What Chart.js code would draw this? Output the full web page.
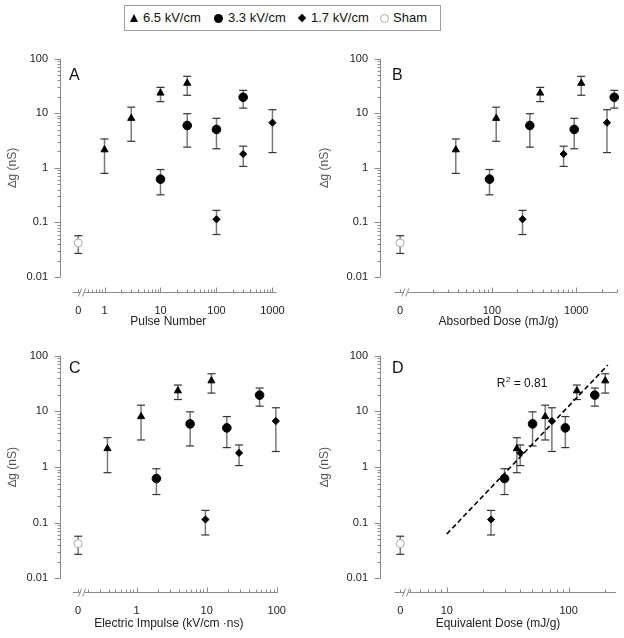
<!DOCTYPE html>
<html>
<head>
<meta charset="utf-8">
<script src="https://cdn.jsdelivr.net/npm/chart.js@4.4.1/dist/chart.umd.min.js"></script>
<style>
body { margin: 0; background: #fff; width: 624px; height: 638px; position: relative; overflow: hidden; font-family: 'Liberation Sans', Arial, sans-serif; }
canvas { position: absolute; }
#legend { position: absolute; left: 124px; top: 5px; width: 315px; height: 24px; border: 1px solid #a0a0a0; }
#legend .lt { position: absolute; top: 4px; font-size: 13px; line-height: 16px; color: #111; }
#legend .mk { position: absolute; }
.tri { width: 0; height: 0; border-left: 4.5px solid transparent; border-right: 4.5px solid transparent; border-bottom: 8px solid #000; top: 8px; }
.circ { width: 9px; height: 9px; border-radius: 50%; background: #000; top: 7.5px; }
.dia { width: 6px; height: 6px; background: #000; transform: rotate(45deg); top: 9px; }
.open { width: 7px; height: 7px; border-radius: 50%; border: 1px solid #aaa; top: 8px; }
</style>
</head>
<body>
<div id="legend">
  <span class="mk tri" style="left:4.5px"></span><span class="lt" style="left:18px">6.5 kV/cm</span>
  <span class="mk circ" style="left:89px"></span><span class="lt" style="left:103px">3.3 kV/cm</span>
  <span class="mk dia" style="left:174px"></span><span class="lt" style="left:186px">1.7 kV/cm</span>
  <span class="mk open" style="left:254.5px"></span><span class="lt" style="left:268px">Sham</span>
</div>
<canvas id="cA" width="312" height="290" style="left:0;top:40px"></canvas>
<canvas id="cB" width="312" height="290" style="left:312px;top:40px"></canvas>
<canvas id="cC" width="312" height="308" style="left:0;top:330px"></canvas>
<canvas id="cD" width="312" height="308" style="left:312px;top:330px"></canvas>
<script>
// conductance change (nS); same points in every panel
const g65 = [2.14, 8.06, 23.4, 35.4];
const g65Lo = [0.79, 3.06, 16.3, 21.3];
const g65Hi = [3.37, 12.9, 29.7, 47.4];
const g33 = [0.62, 5.95, 5.05, 19.6];
const g33Lo = [0.32, 2.39, 2.23, 12.4];
const g33Hi = [0.93, 9.8, 8.06, 26.2];
const g17 = [0.114, 1.79, 6.7];
const g17Lo = [0.06, 1.06, 1.9];
const g17Hi = [0.166, 2.49, 11.6];
const gSham = [0.042];
const gShamLo = [0.027];
const gShamHi = [0.057];

// x values per panel
const pulses65 = [1, 3, 10, 30];
const pulses33 = [10, 30, 100, 300];
const pulses17 = [100, 300, 1000];
const absorbed65 = [37.4, 112.6, 374, 1146];
const absorbed33 = [93.8, 282, 946, 2820];
const absorbed17 = [231, 708, 2313];
const impulse65 = [0.385, 1.16, 3.89, 11.7];
const impulse33 = [1.92, 5.81, 19.4, 56.9];
const impulse17 = [9.6, 29, 97];
const equiv65 = [37.6, 64.3, 117, 200];
const equiv33 = [29.8, 50.6, 94, 164];
const equiv17 = [23.1, 40.1, 72.9];

// regression line in D
const fitX = [10, 210];
const fitY = [0.0625, 68];

// ticks ("0" sits left of the axis break)
const yTicks = [0.01, 0.1, 1, 10, 100];
const yTickLabels = ['0.01', '0.1', '1', '10', '100'];
const pulseTicks = [0.34, 1, 10, 100, 1000];
const pulseTickLabels = ['0', '1', '10', '100', '1000'];
const doseTicks = [8.2, 100, 1000];
const doseTickLabels = ['0', '100', '1000'];
const impulseTicks = [0.147, 1, 10, 100];
const impulseTickLabels = ['0', '1', '10', '100'];
const equivTicks = [4.15, 10, 100];
const equivTickLabels = ['0', '10', '100'];

const FONT = "'Liberation Sans', Arial, sans-serif";
const AXIS = '#8a8a8a';

function minors(from, to) {
    const out = [];
    for (let d = Math.floor(Math.log10(from)); d <= Math.ceil(Math.log10(to)); d++) {
        for (let k = 2; k <= 9; k++) {
            const v = k * Math.pow(10, d);
            if (v >= from && v <= to) out.push(v);
        }
    }
    return out;
}

function pts(xs, ys) {
    return xs.map((x, i) => ({ x: x, y: ys[i] }));
}

const figAxes = {
    id: 'figAxes',
    beforeDatasetsDraw(chart, args, o) {
        const ctx = chart.ctx, sx = chart.scales.x, sy = chart.scales.y, a = chart.chartArea;
        const seg = (x1, y1, x2, y2) => { ctx.beginPath(); ctx.moveTo(x1, y1); ctx.lineTo(x2, y2); ctx.stroke(); };
        ctx.save();
        ctx.strokeStyle = AXIS;
        ctx.lineWidth = 1;

        // y axis
        const yx = Math.round(a.left) + 0.5;
        seg(yx, sy.getPixelForValue(0.01), yx, sy.getPixelForValue(100));
        yTicks.forEach(v => { const p = Math.round(sy.getPixelForValue(v)) + 0.5; seg(yx - 6, p, yx, p); });
        minors(0.01, 100).forEach(v => { const p = Math.round(sy.getPixelForValue(v)) + 0.5; seg(yx - 3, p, yx, p); });

        // x axis with break
        const ay = Math.round(a.bottom + o.gap) + 0.5;
        const xb = sx.getPixelForValue(o.breakAt);
        seg(sx.getPixelForValue(o.start), ay, xb - 2, ay);
        seg(xb + 2, ay, sx.getPixelForValue(o.end), ay);
        seg(xb - 4, ay + 4, xb - 1, ay - 4);
        seg(xb, ay + 4, xb + 3, ay - 4);
        o.ticks.forEach((v, i) => {
            const p = Math.round(sx.getPixelForValue(v)) + 0.5;
            seg(p, ay, p, ay - (i === 0 ? 3 : 5));
        });
        minors(o.minorFrom, o.end).forEach(v => {
            const p = Math.round(sx.getPixelForValue(v)) + 0.5;
            seg(p, ay, p, ay - 3);
        });

        // error bars
        chart.data.datasets.forEach((ds, i) => {
            if (!ds.errLo) return;
            chart.getDatasetMeta(i).data.forEach((pt, j) => {
                const top = sy.getPixelForValue(ds.errHi[j]), bot = sy.getPixelForValue(ds.errLo[j]);
                ctx.strokeStyle = '#7a7a7a';
                ctx.lineWidth = 1.5;
                seg(pt.x, top, pt.x, bot);
                ctx.strokeStyle = '#333';
                ctx.lineWidth = 1.2;
                seg(pt.x - 4, top, pt.x + 4, top);
                seg(pt.x - 4, bot, pt.x + 4, bot);
            });
        });
        ctx.restore();
    },
    afterDraw(chart, args, o) {
        const ctx = chart.ctx, a = chart.chartArea;
        ctx.save();
        ctx.fillStyle = '#111';
        ctx.font = '16px ' + FONT;
        ctx.textBaseline = 'alphabetic';
        ctx.fillText(o.letter, a.left + o.letterDx, a.top + o.letterDy);
        if (o.r2) {
            const px = chart.scales.x.getPixelForValue(o.r2[0]);
            const py = chart.scales.y.getPixelForValue(o.r2[1]);
            ctx.font = '12px ' + FONT;
            ctx.fillText('R', px, py);
            const w = ctx.measureText('R').width;
            ctx.font = '8px ' + FONT;
            ctx.fillText('2', px + w + 0.5, py - 5);
            ctx.font = '12px ' + FONT;
            ctx.fillText(' = 0.81', px + w + 5, py);
        }
        ctx.restore();
    }
};

function makeChart(p) {
    const datasets = [
        { data: pts(p.x65, g65), errLo: g65Lo, errHi: g65Hi, pointStyle: 'triangle', radius: 4.1,
          backgroundColor: '#000', borderColor: '#000', borderWidth: 1 },
        { data: pts(p.x33, g33), errLo: g33Lo, errHi: g33Hi, pointStyle: 'circle', radius: 4.3,
          backgroundColor: '#000', borderColor: '#000', borderWidth: 1 },
        { data: pts(p.x17, g17), errLo: g17Lo, errHi: g17Hi, pointStyle: 'rectRot', radius: 3.6,
          backgroundColor: '#000', borderColor: '#000', borderWidth: 1 },
        { data: pts([p.ticks[0]], gSham), errLo: gShamLo, errHi: gShamHi, pointStyle: 'circle', radius: 4,
          backgroundColor: '#fff', borderColor: '#aaa', borderWidth: 1 }
    ];
    if (p.fit) {
        datasets.push({ data: pts(fitX, fitY), showLine: true, pointRadius: 0, borderColor: '#000',
                        borderWidth: 1.6, borderDash: [5, 3] });
    }
    datasets.forEach(d => { d.clip = false; });

    return new Chart(document.getElementById(p.canvas), {
        type: 'scatter',
        data: { datasets: datasets },
        plugins: [figAxes],
        options: {
            responsive: false,
            animation: false,
            layout: { padding: { left: 0, top: p.padTop, right: p.padRight, bottom: 0 } },
            plugins: {
                legend: { display: false },
                tooltip: { enabled: false },
                figAxes: {
                    gap: p.gap, start: p.start, end: p.xMax, breakAt: p.breakAt, minorFrom: p.minorFrom,
                    ticks: p.ticks, letter: p.letter, letterDx: p.letterDx, letterDy: p.letterDy, r2: p.r2
                }
            },
            scales: {
                x: {
                    type: 'logarithmic', min: p.xMin, max: p.xMax, bounds: 'data',
                    afterBuildTicks: s => { s.ticks = p.ticks.map(v => ({ value: v })); },
                    afterFit: s => { s.height = p.xh; },
                    grid: { display: false, drawTicks: false },
                    border: { display: false },
                    ticks: { autoSkip: false, maxRotation: 0, padding: p.gap + 12, color: '#222',
                             font: { family: FONT, size: 11 }, callback: (v, i) => p.labels[i] },
                    title: { display: true, text: p.title, color: '#222', font: { family: FONT, size: 12 },
                             padding: { top: 0, bottom: p.titlePad } }
                },
                y: {
                    type: 'logarithmic', min: 0.01, max: 100, bounds: 'data',
                    afterBuildTicks: s => { s.ticks = yTicks.map(v => ({ value: v })); },
                    afterFit: s => { s.width = p.yw; },
                    grid: { display: false, drawTicks: false },
                    border: { display: false },
                    ticks: { autoSkip: false, padding: 12, color: '#222',
                             font: { family: FONT, size: 11 }, callback: (v, i) => yTickLabels[i] },
                    title: { display: true, text: '\u2206g (nS)', color: '#555', font: { family: FONT, size: 12 },
                             padding: { top: 5, bottom: 0 } }
                }
            }
        }
    });
}

makeChart({ canvas: 'cA', letter: 'A', title: 'Pulse Number', x65: pulses65, x33: pulses33, x17: pulses17,
    ticks: pulseTicks, labels: pulseTickLabels, yw: 60, padTop: 15, padRight: 16, xh: 53, gap: 15,
    xMin: 0.1603, xMax: 1185, start: 0.272, breakAt: 0.404, minorFrom: 0.45,
    letterDx: 9, letterDy: 21, titlePad: 1 });
makeChart({ canvas: 'cB', letter: 'B', title: 'Absorbed Dose (mJ/g)', x65: absorbed65, x33: absorbed33, x17: absorbed17,
    ticks: doseTicks, labels: doseTickLabels, yw: 68, padTop: 15, padRight: 7, xh: 53, gap: 15,
    xMin: 4.73, xMax: 3040, start: 7.03, breakAt: 9.55, minorFrom: 15,
    letterDx: 12, letterDy: 21, titlePad: 1 });
makeChart({ canvas: 'cC', letter: 'C', title: 'Electric Impulse (kV/cm \u00b7ns)', x65: impulse65, x33: impulse33, x17: impulse17,
    ticks: impulseTicks, labels: impulseTickLabels, yw: 60, padTop: 25.7, padRight: 15, xh: 59.7, gap: 14,
    xMin: 0.081, xMax: 103, start: 0.1235, breakAt: 0.17, minorFrom: 0.19,
    letterDx: 9, letterDy: 17.6, titlePad: 7 });
makeChart({ canvas: 'cD', letter: 'D', title: 'Equivalent Dose (mJ/g)', x65: equiv65, x33: equiv33, x17: equiv17,
    ticks: equivTicks, labels: equivTickLabels, yw: 68, padTop: 25.7, padRight: 8, xh: 59.7, gap: 14,
    xMin: 2.83, xMax: 245, start: 3.72, breakAt: 4.67, minorFrom: 4.9,
    letterDx: 12, letterDy: 17.6, titlePad: 7, fit: true, r2: [25.7, 27.4] });
</script>
</body>
</html>
